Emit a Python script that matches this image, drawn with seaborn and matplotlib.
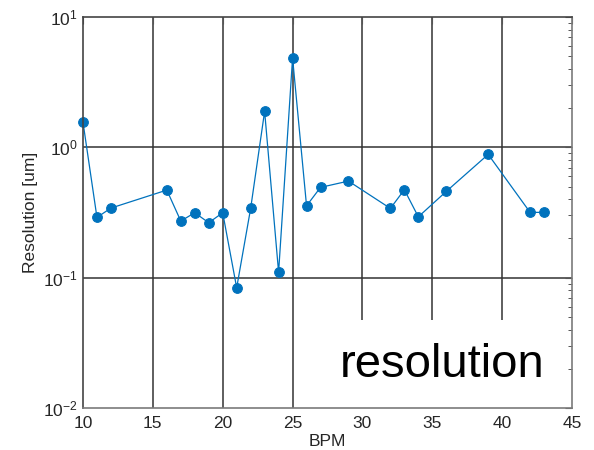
import matplotlib
matplotlib.use("Agg")
import matplotlib.pyplot as plt
import matplotlib.ticker as mticker
from matplotlib.patches import Rectangle
import numpy as np
import pandas as pd
import seaborn as sns

# BPM index and measured resolution (um)
bpm = [10, 11, 12, 16, 17, 18, 19, 20, 21, 22, 23, 24, 25, 26, 27, 29,
       32, 33, 34, 36, 39, 42, 43]
resolution = [1.56, 0.29, 0.342, 0.47, 0.272, 0.315, 0.264, 0.315, 0.0837,
              0.34, 1.89, 0.11, 4.85, 0.356, 0.493, 0.551, 0.34, 0.473,
              0.293, 0.459, 0.883, 0.317, 0.317]

x_ticks = [10, 15, 20, 25, 30, 35, 40, 45]
y_ticks = [1e-2, 1e-1, 1e0, 1e1]
x_label = "BPM"
y_label = "Resolution [um]"
title_text = "resolution"

df = pd.DataFrame({"BPM": bpm, "Resolution": resolution})

sns.set_theme(style="white")
plt.rcParams["font.family"] = ["Liberation Sans", "DejaVu Sans"]
plt.rcParams["mathtext.fontset"] = "custom"
plt.rcParams["mathtext.rm"] = "Liberation Sans"
plt.rcParams["mathtext.it"] = "Liberation Sans"
plt.rcParams["mathtext.bf"] = "Liberation Sans"
plt.rcParams["axes.axisbelow"] = False

text_gray = "#262626"
line_blue = "#0072BD"

fig = plt.figure(figsize=(5.94, 4.5), dpi=100)
ax = fig.add_axes([0.1397, 0.0933, 0.8233, 0.8689])
ax.set_axisbelow(False)

sns.lineplot(data=df, x="BPM", y="Resolution", ax=ax, color=line_blue,
             marker="o", markersize=7, markeredgecolor=line_blue,
             linewidth=0.9, zorder=3, clip_on=False)

ax.set_yscale("log")
ax.set_xlim(10, 45)
ax.set_ylim(1e-2, 1e1)
ax.set_xticks(x_ticks)
ax.set_yticks(y_ticks)
ax.yaxis.set_major_formatter(mticker.LogFormatterMathtext())
ax.yaxis.set_minor_locator(mticker.LogLocator(base=10, subs=np.arange(2, 10)))
ax.yaxis.set_minor_formatter(mticker.NullFormatter())

# interior major grid lines, drawn beneath the label panel
for xv in x_ticks[1:-1]:
    ax.axvline(xv, color="#333333", linewidth=1.1, zorder=1)
for yv in y_ticks[1:-1]:
    ax.axhline(yv, color="#333333", linewidth=1.1, zorder=1)

# white panel behind the large label
ax.add_patch(Rectangle((0.5, 0.0), 0.5, 0.225, transform=ax.transAxes,
                       facecolor="white", edgecolor="none", zorder=1.2))
ax.text(0.734, 0.08, title_text, transform=ax.transAxes, fontsize=34,
        color="black", ha="center", va="baseline", zorder=4)

# darker frame where the grid runs along the edges
for name, side in ax.spines.items():
    side.set_color("#444444" if name in ("top", "left") else "#7a7a7a")
    side.set_linewidth(1.2)
    side.set_zorder(5)

ax.xaxis.set_zorder(4.5)
ax.yaxis.set_zorder(4.5)
ax.tick_params(axis="both", which="both", direction="in", top=True,
               right=True, colors="#555555", labelcolor=text_gray,
               labelsize=12.5)
ax.tick_params(axis="both", which="major", length=5, width=0.8)
ax.tick_params(axis="y", which="minor", length=3, width=0.7)
ax.tick_params(axis="x", which="major", pad=6)

ax.set_xlabel(x_label, fontsize=12.5, color=text_gray, labelpad=2)
ax.set_ylabel(y_label, fontsize=12.5, color=text_gray, labelpad=4)

fig.savefig("out.png", dpi=100, facecolor="white")
